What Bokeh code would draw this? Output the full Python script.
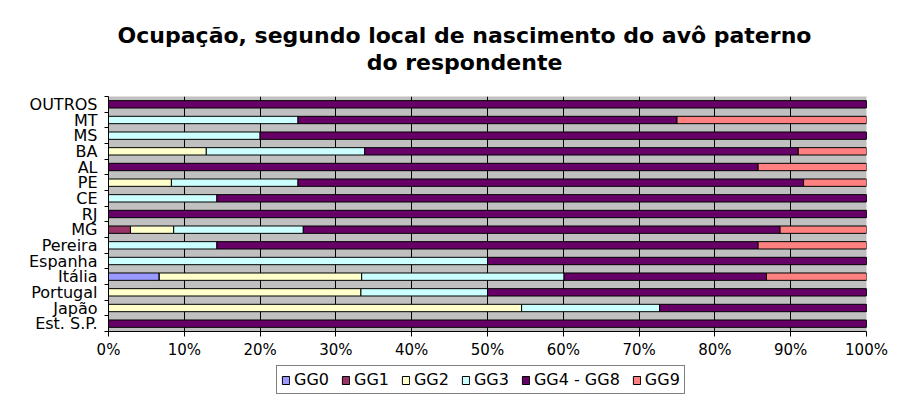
from bokeh.plotting import figure
from bokeh.layouts import column
from bokeh.models import FixedTicker, Legend, LegendItem, Range1d, ColumnDataSource
from bokeh.core.properties import value
from bokeh.embed import file_html
from bokeh.resources import INLINE

categories = ["Est. S.P.", "Japão", "Portugal", "Itália", "Espanha", "Pereira", "MG",
              "RJ", "CE", "PE", "AL", "BA", "MS", "MT", "OUTROS"]
series_names = ["GG0", "GG1", "GG2", "GG3", "GG4 - GG8", "GG9"]
gg0 = [0, 0, 0, 6.7, 0, 0, 0, 0, 0, 0, 0, 0, 0, 0, 0]
gg1 = [0, 0, 0, 0, 0, 0, 2.9, 0, 0, 0, 0, 0, 0, 0, 0]
gg2 = [0, 54.5, 33.3, 26.7, 0, 0, 5.7, 0, 0, 8.3, 0, 12.9, 0, 0, 0]
gg3 = [0, 18.2, 16.7, 26.7, 50, 14.3, 17.1, 0, 14.3, 16.7, 0, 20.9, 20, 25, 0]
gg4_8 = [100, 27.3, 50, 26.7, 50, 71.4, 62.9, 100, 85.7, 66.7, 85.7, 57.2, 80, 50, 100]
gg9 = [0, 0, 0, 13.3, 0, 14.3, 11.4, 0, 0, 8.3, 14.3, 9.0, 0, 25, 0]
colors = ["#9999FF", "#993366", "#FFFFCC", "#CCFFFF", "#660066", "#FF8080"]
x_ticks = [0, 10, 20, 30, 40, 50, 60, 70, 80, 90, 100]
x_tick_labels = ["0%", "10%", "20%", "30%", "40%", "50%", "60%", "70%", "80%", "90%", "100%"]
title_lines = ["Ocupação, segundo local de nascimento do avô paterno", "do respondente"]

FONT = "DejaVu Sans"
W = 905
FRAME_L, FRAME_W = 108, 758   # frames of the stacked figures are aligned

# ---------------- title strip ----------------
TH = 88
pt = figure(width=W, height=TH, x_range=Range1d(FRAME_L, FRAME_L + FRAME_W),
            y_range=Range1d(0, TH),
            output_backend="svg", toolbar_location=None,
            x_axis_type=None, y_axis_type=None,
            min_border=0, outline_line_color=None)
pt.grid.visible = False
pt.text(x=[464, 464], y=[TH - 35, TH - 62], text=title_lines,
        text_align="center", text_baseline="middle",
        text_font=value(FONT), text_font_size="22px", text_font_style="bold",
        text_color="black")

# ---------------- main chart ----------------
ypos = [i + 0.5 for i in range(len(categories))]
source = ColumnDataSource(data={
    "y": ypos,
    "GG0": gg0, "GG1": gg1, "GG2": gg2, "GG3": gg3, "GG4 - GG8": gg4_8, "GG9": gg9,
})

p = figure(frame_width=FRAME_W, frame_height=235,
           x_range=Range1d(0, 100), y_range=Range1d(0, len(categories)),
           output_backend="svg", toolbar_location=None,
           min_border_left=FRAME_L, min_border_right=W - FRAME_L - FRAME_W,
           min_border_top=8, min_border_bottom=30)

renderers = p.hbar_stack(series_names, y="y", height=0.47, color=colors,
                         line_color="black", line_width=1, source=source)

p.background_fill_color = "#C0C0C0"
p.border_fill_color = "white"
p.outline_line_color = None

p.xaxis.ticker = FixedTicker(ticks=x_ticks)
p.xaxis.major_label_overrides = {t: l for t, l in zip(x_ticks, x_tick_labels)}
p.xaxis.axis_line_color = "black"
p.xaxis.major_tick_line_color = "black"
p.xaxis.major_tick_out = 5
p.xaxis.major_tick_in = 0
p.xaxis.minor_tick_line_color = None
p.xaxis.major_label_standoff = 4
p.xaxis.major_label_text_font = FONT
p.xaxis.major_label_text_font_size = "15px"
p.xaxis.major_label_text_color = "black"

p.yaxis.ticker = FixedTicker(ticks=ypos, minor_ticks=list(range(len(categories) + 1)))
p.yaxis.major_label_overrides = {y: c for y, c in zip(ypos, categories)}
p.yaxis.axis_line_color = "black"
p.yaxis.major_tick_out = 0
p.yaxis.major_tick_in = 0
p.yaxis.minor_tick_out = 4
p.yaxis.minor_tick_in = 0
p.yaxis.minor_tick_line_color = "black"
p.yaxis.major_label_standoff = 7
p.yaxis.major_label_text_font = FONT
p.yaxis.major_label_text_font_size = "16px"
p.yaxis.major_label_text_color = "black"

p.xgrid.ticker = FixedTicker(ticks=x_ticks)
p.xgrid.grid_line_color = "black"
p.xgrid.grid_line_alpha = 1
p.xgrid.grid_line_width = 1
p.ygrid.grid_line_color = None

# ---------------- legend strip ----------------
LH = 40
pl = figure(width=W, height=LH, x_range=Range1d(0, 100), y_range=Range1d(100, 101),
            output_backend="svg", toolbar_location=None,
            x_axis_type=None, y_axis_type=None,
            min_border=0, outline_line_color=None)
pl.grid.visible = False
# same stacked series (out of view here) only to provide the legend swatches
legend_renderers = pl.hbar_stack(series_names, y="y", height=0.47, color=colors,
                                 line_color="black", line_width=1, source=source)
legend = Legend(items=[LegendItem(label=n, renderers=[r])
                       for n, r in zip(series_names, legend_renderers)],
                orientation="horizontal", location=(276 - FRAME_L, 7),
                border_line_color="black", border_line_width=1,
                glyph_width=9, glyph_height=10,
                label_text_font=FONT, label_text_font_size="16px",
                label_text_color="black",
                spacing=12, padding=4, margin=0, label_standoff=4,
                background_fill_color="white", background_fill_alpha=1)
pl.add_layout(legend, "center")

layout = column(pt, p, pl, spacing=0)
open("out.html", "w").write(file_html(layout, INLINE))
